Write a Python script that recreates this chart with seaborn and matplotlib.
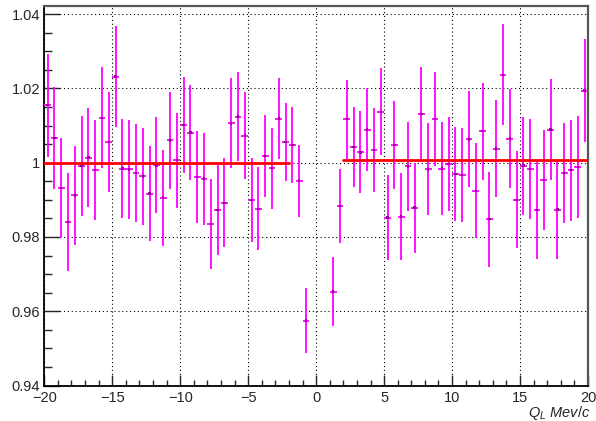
import numpy as np
import pandas as pd
import matplotlib
matplotlib.use("Agg")
import matplotlib.pyplot as plt
import seaborn as sns
from matplotlib.ticker import MultipleLocator, FixedLocator

# ---- data ----
x_left = [-19.75, -19.25, -18.75, -18.25, -17.75, -17.25, -16.75, -16.25, -15.75, -15.25,
          -14.75, -14.25, -13.75, -13.25, -12.75, -12.25, -11.75, -11.25, -10.75, -10.25,
          -9.75, -9.25, -8.75, -8.25, -7.75, -7.25, -6.75, -6.25, -5.75, -5.25,
          -4.75, -4.25, -3.75, -3.25, -2.75, -2.25, -1.75, -1.25, -0.75]
y_left = [1.0155, 1.0067, 0.9932, 0.9840, 0.9912, 0.9991, 1.0014, 0.9980, 1.0121, 1.0056,
          1.0232, 0.9984, 0.9982, 0.9972, 0.9963, 0.9917, 0.9993, 0.9906, 1.0060, 1.0007,
          1.0101, 1.0081, 0.9962, 0.9957, 0.9835, 0.9873, 0.9892, 1.0106, 1.0124, 1.0073,
          0.9900, 0.9876, 1.0018, 0.9985, 1.0119, 1.0056, 1.0048, 0.9952, 0.9575]
e_left = [0.0139, 0.0137, 0.0134, 0.0132, 0.0133, 0.0135, 0.0134, 0.0134, 0.0136, 0.0134,
          0.0136, 0.0133, 0.0133, 0.0131, 0.0131, 0.0129, 0.0129, 0.0129, 0.0130, 0.0128,
          0.0129, 0.0128, 0.0124, 0.0124, 0.0121, 0.0121, 0.0120, 0.0121, 0.0120, 0.0117,
          0.0114, 0.0112, 0.0111, 0.0109, 0.0108, 0.0105, 0.0102, 0.0097, 0.0088]

x_right = [1.25, 1.75, 2.25, 2.75, 3.25, 3.75, 4.25, 4.75, 5.25, 5.75,
           6.25, 6.75, 7.25, 7.75, 8.25, 8.75, 9.25, 9.75, 10.25, 10.75,
           11.25, 11.75, 12.25, 12.75, 13.25, 13.75, 14.25, 14.75, 15.25, 15.75,
           16.25, 16.75, 17.25, 17.75, 18.25, 18.75, 19.25, 19.75]
y_right = [0.9653, 0.9883, 1.0117, 1.0043, 1.0028, 1.0089, 1.0034, 1.0137, 0.9852, 1.0048,
           0.9855, 0.9990, 0.9879, 1.0132, 0.9982, 1.0117, 0.9984, 0.9997, 0.9970, 0.9967,
           1.0063, 0.9924, 1.0085, 0.9848, 1.0038, 1.0237, 1.0065, 0.9900, 0.9992, 0.9983,
           0.9873, 0.9953, 1.0089, 0.9874, 0.9972, 0.9980, 0.9989, 1.0194]
e_right = [0.0093, 0.0099, 0.0106, 0.0108, 0.0110, 0.0111, 0.0113, 0.0117, 0.0115, 0.0118,
           0.0118, 0.0120, 0.0121, 0.0125, 0.0124, 0.0127, 0.0125, 0.0127, 0.0126, 0.0127,
           0.0129, 0.0128, 0.0131, 0.0128, 0.0131, 0.0136, 0.0133, 0.0131, 0.0132, 0.0134,
           0.0131, 0.0134, 0.0136, 0.0132, 0.0135, 0.0136, 0.0137, 0.0139]

bin_half_width = 0.25
fit_left_range = [-20.0, -2.0]
fit_left_value = 1.0000
fit_right_range = [2.0, 20.0]
fit_right_value = 1.0007

x_ticks = [-20, -15, -10, -5, 0, 5, 10, 15, 20]
x_ticklabels = ["\u221220", "\u221215", "\u221210", "\u22125", "0", "5", "10", "15", "20"]
y_ticks = [0.94, 0.96, 0.98, 1.00, 1.02, 1.04]
y_ticklabels = ["0.94", "0.96", "0.98", "1", "1.02", "1.04"]
x_label = r"$Q_{L}\ Mev/c$"

# ---- style ----
sns.set_style("white")
plt.rcParams["font.family"] = ["Liberation Sans", "DejaVu Sans"]
plt.rcParams["mathtext.fontset"] = "custom"
plt.rcParams["mathtext.it"] = "Liberation Sans:italic"
plt.rcParams["mathtext.rm"] = "Liberation Sans"

df = pd.DataFrame({
    "x": x_left + x_right,
    "y": y_left + y_right,
    "err": e_left + e_right,
})

fig = plt.figure(figsize=(5.96, 4.21), dpi=100)
ax = fig.add_axes([0.0743, 0.0843, 0.9123, 0.9014])

magenta = "#ff00ff"
ax.errorbar(df["x"], df["y"], yerr=df["err"], xerr=bin_half_width, fmt="none",
            ecolor=magenta, elinewidth=1.3, capsize=0, zorder=3)
sns.scatterplot(data=df, x="x", y="y", ax=ax, marker="s", s=3, color="#9a009a",
                edgecolor="none", zorder=4, legend=False)

fit_df = pd.DataFrame({
    "x": fit_left_range + fit_right_range,
    "y": [fit_left_value, fit_left_value, fit_right_value, fit_right_value],
    "seg": ["left", "left", "right", "right"],
})
for seg, sub in fit_df.groupby("seg"):
    sns.lineplot(data=sub, x="x", y="y", ax=ax, color="#ff0000", linewidth=2.0,
                 zorder=5, legend=False)

ax.set_xlim(-20, 20)
ax.set_ylim(0.94, 1.0422)

ax.xaxis.set_major_locator(FixedLocator(x_ticks))
ax.set_xticklabels(x_ticklabels)
ax.xaxis.set_minor_locator(MultipleLocator(1))
ax.yaxis.set_major_locator(FixedLocator(y_ticks))
ax.set_yticklabels(y_ticklabels)
ax.yaxis.set_minor_locator(MultipleLocator(0.005))

ax.tick_params(axis="x", which="major", direction="in", length=8, width=1, pad=4,
               labelsize=10.5, top=False, bottom=True)
ax.tick_params(axis="x", which="minor", direction="in", length=4, width=1, top=False, bottom=True)
ax.tick_params(axis="y", which="major", direction="in", length=11.5, width=1, pad=3,
               labelsize=10.5, left=True, right=False)
ax.tick_params(axis="y", which="minor", direction="in", length=5.8, width=1, left=True, right=False)

ax.grid(True, which="major", color="black", linestyle=(0, (1, 2.5)), linewidth=0.8)

for side in ["left", "bottom"]:
    ax.spines[side].set_color("black")
    ax.spines[side].set_linewidth(1.3)
for side in ["top", "right"]:
    ax.spines[side].set_color("#555555")
    ax.spines[side].set_linewidth(1.6)

ax.set_xlabel("")
ax.set_ylabel("")
fig.text(590 / 596, 1 - 417.5 / 421, x_label, ha="right", va="baseline", fontsize=10.5)

fig.savefig("out.png", dpi=100)
